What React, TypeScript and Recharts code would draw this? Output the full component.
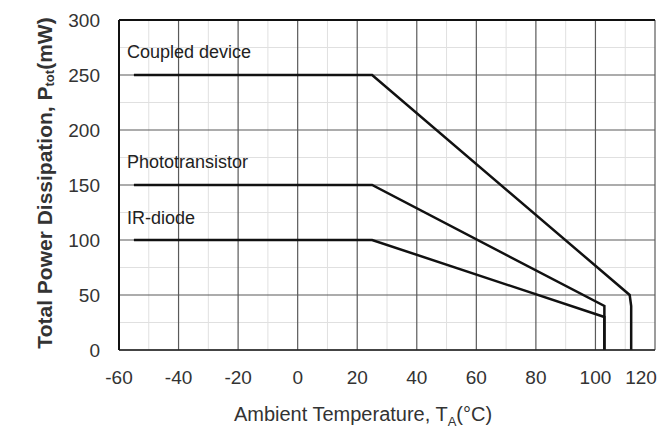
import React from "react";
import {
  ComposedChart, Line, XAxis, YAxis, CartesianGrid, ReferenceLine, ReferenceDot, Label,
} from "recharts";

// ambient temperature (°C) / power (mW)
const tempTicks = [-60, -40, -20, 0, 20, 40, 60, 80, 100, 120];
const tempMinor = [-50, -30, -10, 10, 30, 50, 70, 90, 110];
const powerTicks = [0, 50, 100, 150, 200, 250, 300];
const powerMinor = [25, 75, 125, 175, 225, 275];

const coupledDevice = [
  { t: -55, p: 250 }, { t: 25, p: 250 }, { t: 111.5, p: 50 }, { t: 112, p: 40 }, { t: 112, p: 0 },
];
const phototransistor = [
  { t: -55, p: 150 }, { t: 25, p: 150 }, { t: 103, p: 40 }, { t: 103, p: 0 },
];
const irDiode = [
  { t: -55, p: 100 }, { t: 25, p: 100 }, { t: 103, p: 30 }, { t: 103, p: 0 },
];

const curveLabels = [
  { name: "Coupled device", t: -57.3, p: 265.5 },
  { name: "Phototransistor", t: -57.3, p: 165.5 },
  { name: "IR-diode", t: -57.3, p: 114.5 },
];

const font = "'Liberation Sans', Arial, sans-serif";
const tick = { fill: "#333", fontSize: 19, fontFamily: font };

// axis scale may come as a function or wrapped, depending on version
const toPx = (axis: any, v: number, lo: number, hi: number, start: number, size: number, flip: boolean) => {
  const s = axis && axis.scale;
  if (typeof s === "function") return s(v);
  if (s && typeof s.map === "function") return s.map(v);
  const f = (v - lo) / (hi - lo);
  return flip ? start + size * (1 - f) : start + size * f;
};

// keeps the last label inside the picture
const TempTick = (props: any) => {
  const { x, y, payload } = props;
  const tx = Math.min(x, 659 - 18);
  return (
    <text x={tx} y={y} dy="0.71em" textAnchor="middle" fill="#333" fontSize={19} fontFamily={font}>
      {payload.value}
    </text>
  );
};

export default function App() {
  return (
    <div style={{ position: "absolute", left: 0, top: 0, background: "#fff" }}>
      <ComposedChart width={659} height={433} margin={{ top: 20, right: 4, bottom: 0, left: 0 }}>
        <CartesianGrid
          stroke="#e0e0e0"
          strokeWidth={1}
          verticalCoordinatesGenerator={({ xAxis, offset }: any) =>
            tempMinor.map((v) => toPx(xAxis, v, -60, 120, offset.left, offset.width, false))
          }
          horizontalCoordinatesGenerator={({ yAxis, offset }: any) =>
            powerMinor.map((v) => toPx(yAxis, v, 0, 300, offset.top, offset.height, true))
          }
        />
        <XAxis
          type="number"
          dataKey="t"
          domain={[-60, 120]}
          ticks={tempTicks}
          allowDataOverflow
          height={83}
          tick={<TempTick />}
          tickLine={false}
          tickSize={6}
          tickMargin={15}
          axisLine={{ stroke: "#222", strokeWidth: 1.5 }}
        >
          <Label
            content={() => (
              <text x={363} y={421} textAnchor="middle" fontSize={20} fontFamily={font} fill="#333">
                Ambient Temperature, T
                <tspan dy={5} fontSize={13}>A</tspan>
                <tspan dy={-5}>(°C)</tspan>
              </text>
            )}
          />
        </XAxis>
        <YAxis
          type="number"
          domain={[0, 300]}
          ticks={powerTicks}
          width={119}
          tick={tick}
          tickLine={false}
          tickSize={6}
          tickMargin={13}
          axisLine={{ stroke: "#111", strokeWidth: 2 }}
        >
          <Label
            content={() => (
              <text
                x={44}
                y={183}
                transform="rotate(-90 44 183)"
                textAnchor="middle"
                dominantBaseline="central"
                fontSize={21}
                fontWeight="bold"
                fontFamily={font}
                fill="#333"
              >
                Total Power Dissipation, P
                <tspan dy={5} fontSize={13}>tot</tspan>
                <tspan dy={-5}>(mW)</tspan>
              </text>
            )}
          />
        </YAxis>
        <CartesianGrid stroke="#5a5a5a" strokeWidth={1.2} />
        <ReferenceLine y={300} stroke="#111" strokeWidth={2} />
        <Line data={coupledDevice} dataKey="p" stroke="#111" strokeWidth={2.5} dot={false} isAnimationActive={false} />
        <Line data={phototransistor} dataKey="p" stroke="#111" strokeWidth={2.5} dot={false} isAnimationActive={false} />
        <Line data={irDiode} dataKey="p" stroke="#111" strokeWidth={2.5} dot={false} isAnimationActive={false} />
        {curveLabels.map((c) => (
          <ReferenceDot
            key={c.name}
            x={c.t}
            y={c.p}
            r={0}
            shape={(props: any) => (
              <text x={props.cx} y={props.cy} fontSize={18} fontFamily={font} fill="#222">
                {c.name}
              </text>
            )}
          />
        ))}
      </ComposedChart>
    </div>
  );
}
